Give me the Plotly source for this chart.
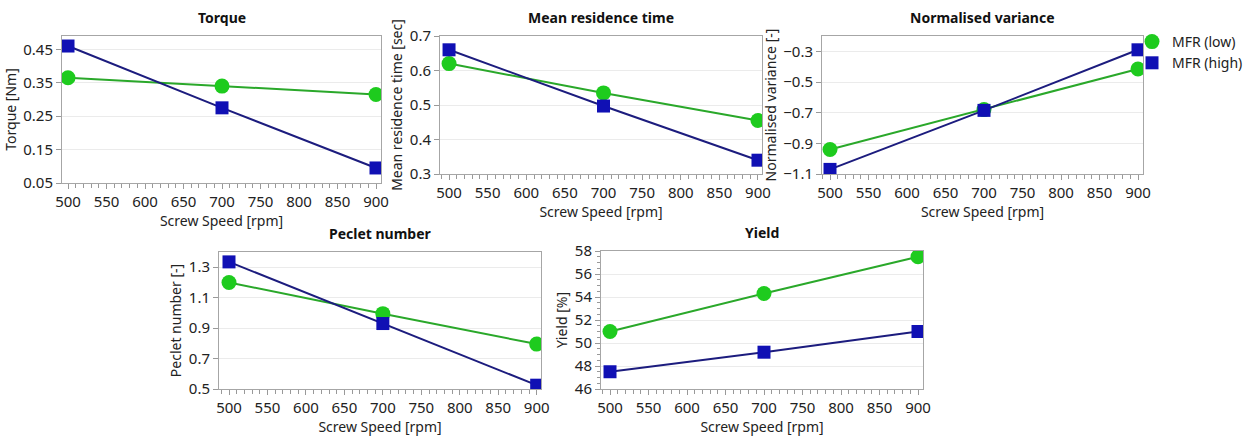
import plotly.graph_objects as go

speed = [500, 700, 900]

torque_low = [0.365, 0.340, 0.315]
torque_high = [0.460, 0.275, 0.095]
mrt_low = [0.620, 0.535, 0.455]
mrt_high = [0.660, 0.497, 0.340]
nv_low = [-0.940, -0.680, -0.415]
nv_high = [-1.070, -0.685, -0.290]
peclet_low = [1.200, 0.995, 0.795]
peclet_high = [1.335, 0.930, 0.525]
yield_low = [51.0, 54.3, 57.5]
yield_high = [47.5, 49.2, 51.0]

titles = ["Torque", "Mean residence time", "Normalised variance", "Peclet number", "Yield"]
ytitles = ["Torque [Nm]", "Mean residence time [sec]", "Normalised variance [-]",
           "Peclet number [-]", "Yield [%]"]
lows = [torque_low, mrt_low, nv_low, peclet_low, yield_low]
highs = [torque_high, mrt_high, nv_high, peclet_high, yield_high]
series_names = ["MFR (low)", "MFR (high)"]

W, H = 1251, 443
# pixel boxes (left, right, top, bottom)
boxes = [(62, 381, 36, 183), (440, 762, 36, 174), (822, 1143, 36, 174),
         (219, 541, 252, 389), (601, 923, 251, 389)]
xranges = [[492.2, 906.5], [488.3, 905.2], [489.6, 906.5], [487.0, 905.6], [488.3, 906.5]]
yranges = [[0.05, 0.49], [0.3, 0.7], [-1.1, -0.2], [0.5, 1.4], [46, 58]]
ytick0 = [0.05, 0.3, -1.1, 0.5, 46]
ydtick = [0.1, 0.1, 0.2, 0.2, 2]
yminor = [None, None, None, None, 0.5]

GREEN_M, GREEN_L = "#1ecb1e", "#2aa82a"
BLUE_M, BLUE_L = "#1010b4", "#1c1c7e"
FONT = "Noto Sans, Open Sans, sans-serif"
TXT = "#222222"

fig = go.Figure()
layout = dict(
    width=W, height=H, margin=dict(l=0, r=0, t=0, b=0, autoexpand=False),
    paper_bgcolor="white", plot_bgcolor="white",
    font=dict(family=FONT, size=14, color=TXT),
    showlegend=True,
    legend=dict(x=1132 / W, y=1 - 26 / H, xanchor="left", yanchor="top",
                font=dict(size=14, color=TXT), bgcolor="rgba(0,0,0,0)",
                tracegroupgap=0, itemwidth=30),
)
annotations = []
for i in range(5):
    n = "" if i == 0 else str(i + 1)
    l, r, t, b = boxes[i]
    xa = "x" + n
    ya = "y" + n
    fig.add_trace(go.Scatter(x=speed, y=lows[i], xaxis=xa, yaxis=ya, mode="lines+markers",
                             name=series_names[0], showlegend=False,
                             line=dict(color=GREEN_L, width=2),
                             marker=dict(symbol="circle", size=15, color=GREEN_M)))
    fig.add_trace(go.Scatter(x=speed, y=highs[i], xaxis=xa, yaxis=ya, mode="lines+markers",
                             name=series_names[1], showlegend=False,
                             line=dict(color=BLUE_L, width=2),
                             marker=dict(symbol="square", size=13, color=BLUE_M)))
    minor_y = dict(dtick=yminor[i], ticks="outside", ticklen=3, tickcolor="#999999",
                   showgrid=False) if yminor[i] else None
    xaxis = dict(domain=[l / W, r / W], anchor=ya, range=xranges[i], automargin=False,
                 tick0=500, dtick=50, ticks="outside", ticklen=5, tickcolor="#999999",
                 minor=dict(dtick=10, ticks="outside", ticklen=4, tickcolor="#999999",
                            showgrid=False),
                 showgrid=False, zeroline=False, showline=True, linecolor="#a6a6a6",
                 linewidth=1, mirror=True,
                 tickfont=dict(size=15, color=TXT),
                 title=dict(text="Screw Speed [rpm]", font=dict(size=14, color=TXT),
                            standoff=1))
    yaxis = dict(domain=[1 - b / H, 1 - t / H], anchor=xa, range=yranges[i], automargin=False,
                 tick0=ytick0[i], dtick=ydtick[i], ticks="outside", ticklen=5,
                 tickcolor="#999999", showgrid=True, gridcolor="#ebebeb", gridwidth=1,
                 zeroline=False, showline=True, linecolor="#a6a6a6", linewidth=1, mirror=True,
                 tickfont=dict(size=15, color=TXT),
                 title=dict(text=ytitles[i], font=dict(size=14, color=TXT), standoff=3))
    if minor_y:
        yaxis["minor"] = minor_y
    layout["xaxis" + n] = xaxis
    layout["yaxis" + n] = yaxis
    annotations.append(dict(text="<b>" + titles[i] + "</b>", xref="paper", yref="paper",
                            x=(l + r) / 2 / W, y=1 - (t - 7) / H, xanchor="center",
                            yanchor="bottom", showarrow=False,
                            font=dict(size=14, color="#111111")))

# legend-only entries (markers only, as in the reference legend)
fig.add_trace(go.Scatter(x=[None], y=[None], mode="markers", name=series_names[0],
                         marker=dict(symbol="circle", size=15, color=GREEN_M)))
fig.add_trace(go.Scatter(x=[None], y=[None], mode="markers", name=series_names[1],
                         marker=dict(symbol="square", size=13, color=BLUE_M)))

layout["annotations"] = annotations
fig.update_layout(**layout)
fig.write_html("out.html", config={"displayModeBar": False},
               post_script="document.body.style.margin='0';")
